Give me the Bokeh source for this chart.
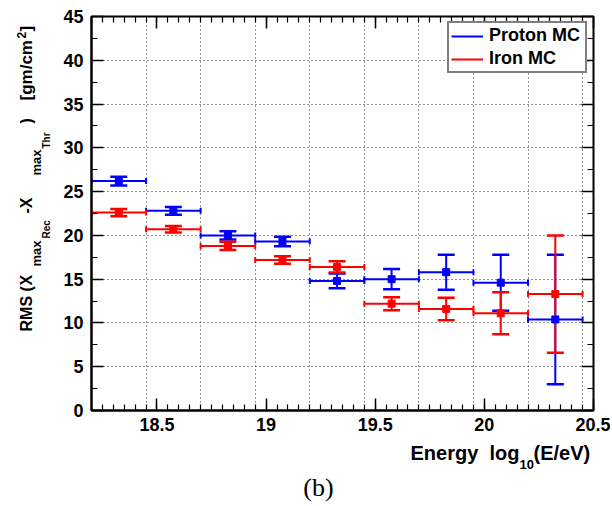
import math
from bokeh.plotting import figure
from bokeh.layouts import row, column
from bokeh.models import (ColumnDataSource, Whisker, TeeHead, Range1d, SingleIntervalTicker,
                          FixedTicker, LinearAxis, Label, Legend, LegendItem, CustomJSTickFormatter)
from bokeh.embed import file_html
from bokeh.resources import INLINE

# ---- data ----
energy_centers = [18.325, 18.575, 18.825, 19.075, 19.325, 19.575, 19.825, 20.075, 20.325]
bin_half_width = [0.125] * 9
proton_rms = [26.2, 22.8, 20.0, 19.3, 14.8, 15.0, 15.8, 14.6, 10.4]
proton_err = [0.5, 0.45, 0.47, 0.55, 0.85, 1.15, 2.0, 3.2, 7.4]
iron_rms = [22.6, 20.7, 18.8, 17.2, 16.4, 12.2, 11.6, 11.1, 13.3]
iron_err = [0.4, 0.38, 0.46, 0.43, 0.65, 0.74, 1.28, 2.4, 6.7]
bin_edges = [18.45, 18.7, 18.95, 19.2, 19.45, 19.7, 19.95, 20.2, 20.45]
series_names = ["Proton MC", "Iron MC"]
series_colors = ["#0000ff", "#ff0000"]

FONT = "Liberation Sans"

# ---- layout geometry (page px) ----
YFIG_W = 56
TOP_H = 440
TOTAL_W = 610
BOT_H = 64
FRAME_TOP, FRAME_BOTTOM, FRAME_LEFT, FRAME_RIGHT = 16, 410, 91, 593

p = figure(width=TOTAL_W - YFIG_W, height=TOP_H, output_backend="svg", toolbar_location=None,
           x_range=Range1d(18.2, 20.5), y_range=Range1d(0, 45),
           min_border_left=FRAME_LEFT - YFIG_W, min_border_right=TOTAL_W - FRAME_RIGHT,
           min_border_top=FRAME_TOP, min_border_bottom=TOP_H - FRAME_BOTTOM)
p.background_fill_color = "white"
p.border_fill_color = "white"
p.outline_line_color = "black"
p.outline_line_width = 2

xt = SingleIntervalTicker(interval=0.5, num_minor_ticks=10)
yt = SingleIntervalTicker(interval=5, num_minor_ticks=2)
p.xaxis.ticker = xt
p.yaxis.ticker = yt
p.xaxis.formatter = CustomJSTickFormatter(code="return String(tick)")

for ax in [p.xaxis[0], p.yaxis[0]]:
    ax.axis_line_width = 2
    ax.major_tick_in = 12
    ax.major_tick_out = 0
    ax.minor_tick_in = 6
    ax.minor_tick_out = 0
    ax.major_tick_line_width = 1.5
    ax.minor_tick_line_width = 1.2
    ax.major_label_text_font = FONT
    ax.major_label_text_font_style = "bold"
    ax.major_label_text_font_size = "18px"
    ax.major_label_text_color = "black"
p.yaxis.major_label_standoff = 8
p.xaxis.major_label_standoff = 7

# mirrored axes (ticks only, no labels)
top = LinearAxis(ticker=SingleIntervalTicker(interval=0.5, num_minor_ticks=10))
right = LinearAxis(ticker=SingleIntervalTicker(interval=5, num_minor_ticks=2))
for ax in [top, right]:
    ax.axis_line_color = None
    ax.major_tick_in = 12
    ax.major_tick_out = 0
    ax.minor_tick_in = 6
    ax.minor_tick_out = 0
    ax.major_tick_line_width = 1.5
    ax.minor_tick_line_width = 1.2
    ax.formatter = CustomJSTickFormatter(code="return ''")
    ax.major_label_standoff = 0
p.add_layout(top, "above")
p.add_layout(right, "right")

# grid: x at bin edges, y at major ticks
p.xgrid.ticker = FixedTicker(ticks=bin_edges)
p.ygrid.ticker = yt
for g in [p.xgrid[0], p.ygrid[0]]:
    g.grid_line_color = "black"
    g.grid_line_dash = "1 3"
    g.grid_line_width = 1
    g.grid_line_alpha = 0.85

legend_renderers = []
for name, color, rms, err in [(series_names[0], series_colors[0], proton_rms, proton_err),
                              (series_names[1], series_colors[1], iron_rms, iron_err)]:
    src = ColumnDataSource(dict(
        x=energy_centers, y=rms,
        xl=[c - h for c, h in zip(energy_centers, bin_half_width)],
        xu=[c + h for c, h in zip(energy_centers, bin_half_width)],
        yl=[r - e for r, e in zip(rms, err)],
        yu=[r + e for r, e in zip(rms, err)],
    ))
    wx = Whisker(source=src, base="y", lower="xl", upper="xu", dimension="width",
                 line_color=color, line_width=2,
                 lower_head=TeeHead(size=6, line_color=color, line_width=2),
                 upper_head=TeeHead(size=6, line_color=color, line_width=2))
    wy = Whisker(source=src, base="x", lower="yl", upper="yu", dimension="height",
                 line_color=color, line_width=2,
                 lower_head=TeeHead(size=17, line_color=color, line_width=2.5),
                 upper_head=TeeHead(size=17, line_color=color, line_width=2.5))
    p.add_layout(wx)
    p.add_layout(wy)
    p.scatter("x", "y", source=src, marker="square", size=7, color=color)
    proxy = p.line(x=[float("nan")], y=[float("nan")], line_color=color, line_width=2)
    legend_renderers.append((name, proxy))

legend = Legend(items=[LegendItem(label=n, renderers=[r]) for n, r in legend_renderers],
                location=(356, 337))
legend.label_text_font = FONT
legend.label_text_font_style = "bold"
legend.label_text_font_size = "18px"
legend.label_text_color = "black"
legend.border_line_color = "black"
legend.border_line_width = 2
legend.background_fill_color = "white"
legend.background_fill_alpha = 1
legend.padding = 2
legend.spacing = 2
legend.glyph_width = 32
legend.glyph_height = 20
legend.label_height = 20
legend.label_width = 94
legend.label_standoff = 6
legend.margin = 0
p.add_layout(legend)


def text_fig(w, h, top=0, bottom=0):
    f = figure(width=w, height=h, output_backend="svg", toolbar_location=None,
               x_range=Range1d(0, 1), y_range=Range1d(0, 1),
               x_axis_location=None, y_axis_location=None,
               min_border_left=0, min_border_right=0, min_border_top=top, min_border_bottom=bottom)
    f.grid.visible = False
    f.outline_line_color = None
    f.background_fill_color = "white"
    f.border_fill_color = "white"
    return f


# y-axis title panel: frame aligned with the main frame (page y 16..410)
yf = text_fig(YFIG_W, TOP_H, top=FRAME_TOP, bottom=TOP_H - FRAME_BOTTOM)
A = math.pi / 2
ytitle_pieces = [("RMS", 34, 329, 16), ("(", 34, 289, 16), ("X", 34, 283, 16),
                 ("max", 42, 264, 13), ("Rec", 51, 236, 10), ("-X", 34, 211, 16),
                 ("max", 42, 173, 13), ("Thr", 51, 146, 10), (")", 34, 121, 16),
                 ("[gm/cm", 34, 98, 17), ("2", 27, 36, 12), ("]", 34, 29, 17)]
for txt, bx, y0, sz in ytitle_pieces:
    yf.add_layout(Label(x=bx - 0.5 * sz, y=FRAME_BOTTOM - (y0 + 2), x_units="screen", y_units="screen",
                        text=txt, text_font=FONT, text_font_style="bold",
                        text_font_size=f"{sz}px", text_color="black",
                        angle=A, text_align="left", text_baseline="alphabetic"))

# bottom panel: x-axis title and caption (page y TOP_H..TOP_H+BOT_H)
bf = text_fig(TOTAL_W, BOT_H)
xtitle_pieces = [("Energy", 410, 460, 20), ("log", 489, 460, 20),
                 ("10", 519, 469, 13), ("(E/eV)", 533, 460, 20)]
for txt, px, py, sz in xtitle_pieces:
    bf.add_layout(Label(x=px, y=(TOP_H + BOT_H) - (py - 0.4 * sz), x_units="screen", y_units="screen",
                        text=txt, text_font=FONT, text_font_style="bold",
                        text_font_size=f"{sz}px", text_color="black",
                        text_align="left", text_baseline="alphabetic"))
bf.add_layout(Label(x=318, y=(TOP_H + BOT_H) - (497 - 0.4 * 26), x_units="screen", y_units="screen",
                    text="(b)", text_font="Liberation Serif", text_font_style="normal",
                    text_font_size="26px", text_color="black",
                    text_align="center", text_baseline="alphabetic"))

layout = column(row(yf, p, spacing=0), bf, spacing=0)
open("out.html", "w").write(file_html(layout, INLINE))
